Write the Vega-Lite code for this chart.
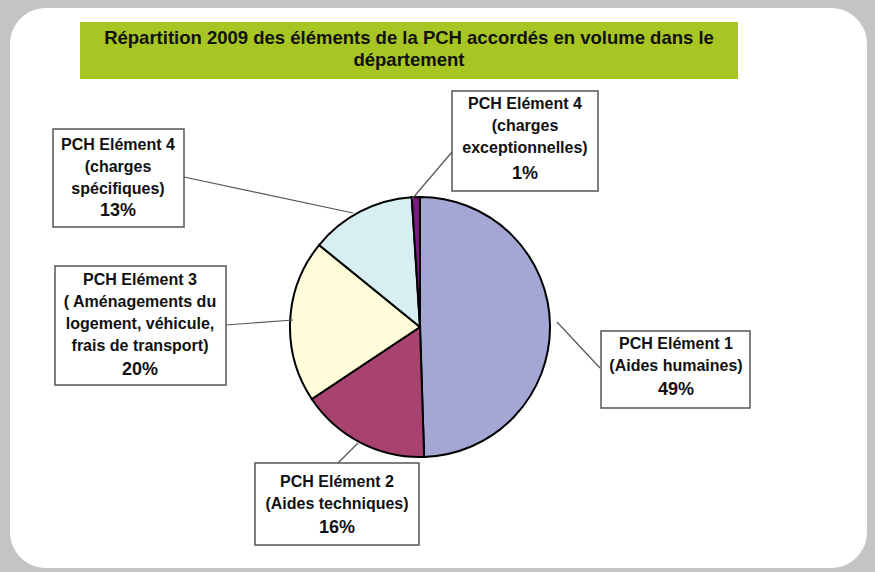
{
  "$schema": "https://vega.github.io/schema/vega-lite/v6.json",
  "width": 875,
  "height": 572,
  "autosize": {"type": "fit", "contains": "padding"},
  "padding": {"left": 10, "top": 8, "right": 8, "bottom": 4},
  "background": "#c4c4c4",
  "view": {"fill": "#ffffff", "stroke": "#ffffff", "strokeWidth": 0, "cornerRadius": 36},
  "config": {
    "text": {"font": "Liberation Sans", "fontWeight": "bold", "color": "#111111"}
  },
  "data": {
    "values": [
      {"ordre": 1, "element": "PCH Elément 1", "lignes": ["PCH Elément 1", "(Aides humaines)"], "part": 49, "pct": "49%"},
      {"ordre": 2, "element": "PCH Elément 2", "lignes": ["PCH Elément 2", "(Aides techniques)"], "part": 16, "pct": "16%"},
      {"ordre": 3, "element": "PCH Elément 3", "lignes": ["PCH Elément 3", "( Aménagements du", "logement, véhicule,", "frais de transport)"], "part": 20, "pct": "20%"},
      {"ordre": 4, "element": "PCH Elément 4 (charges spécifiques)", "lignes": ["PCH Elément 4", "(charges", "spécifiques)"], "part": 13, "pct": "13%"},
      {"ordre": 5, "element": "PCH Elément 4 (charges exceptionnelles)", "lignes": ["PCH Elément 4", "(charges", "exceptionnelles)"], "part": 1, "pct": "1%"}
    ]
  },
  "layer": [
    {
      "data": {"values": [{}]},
      "layer": [
        {
          "mark": {"type": "rect", "fill": "#a7c523"},
          "encoding": {
            "x": {"datum": -340, "type": "quantitative", "scale": {"domain": [-410, 447], "nice": false, "zero": false}, "axis": null},
            "x2": {"datum": 318},
            "y": {"datum": 305, "type": "quantitative", "scale": {"domain": [-241, 319], "nice": false, "zero": false}, "axis": null},
            "y2": {"datum": 248}
          }
        },
        {
          "mark": {"type": "text", "fontSize": 18.5, "lineHeight": 22, "align": "center", "baseline": "middle",
                   "text": ["Répartition 2009 des éléments de la PCH accordés en volume dans le", "département"]},
          "encoding": {"x": {"datum": -11}, "y": {"datum": 289}}
        }
      ]
    },
    {
      "mark": {"type": "arc", "outerRadius": 130, "stroke": "#000000", "strokeWidth": 2,
               "x": {"expr": "scale('x', 0)"}, "y": {"expr": "scale('y', 0)"}},
      "encoding": {
        "theta": {"field": "part", "type": "quantitative", "stack": true},
        "order": {"field": "ordre", "type": "quantitative", "sort": "ascending"},
        "color": {
          "field": "element", "type": "nominal", "legend": null,
          "scale": {
            "domain": ["PCH Elément 1", "PCH Elément 2", "PCH Elément 3", "PCH Elément 4 (charges spécifiques)", "PCH Elément 4 (charges exceptionnelles)"],
            "range": ["#a4a7d3", "#a8426f", "#fffcda", "#d7eef3", "#7a1c7e"]
          }
        }
      }
    },
    {
      "transform": [{"filter": "datum.ordre == 1"}],
      "layer": [
        {"mark": {"type": "rule", "stroke": "#555555", "strokeWidth": 1.2}, "encoding": {"x": {"datum": 137}, "y": {"datum": 5}, "x2": {"datum": 180}, "y2": {"datum": -41}}},
        {"mark": {"type": "rect", "fill": "#ffffff", "stroke": "#555555", "strokeWidth": 1.5}, "encoding": {"x": {"datum": 181}, "x2": {"datum": 330}, "y": {"datum": -4}, "y2": {"datum": -81}}},
        {"mark": {"type": "text", "fontSize": 16, "lineHeight": 22, "align": "center", "baseline": "middle"}, "encoding": {"x": {"datum": 256}, "y": {"datum": -17}, "text": {"field": "lignes"}}},
        {"mark": {"type": "text", "fontSize": 18, "align": "center", "baseline": "middle"}, "encoding": {"x": {"datum": 256}, "y": {"datum": -63}, "text": {"field": "pct"}}}
      ]
    },
    {
      "transform": [{"filter": "datum.ordre == 2"}],
      "layer": [
        {"mark": {"type": "rule", "stroke": "#555555", "strokeWidth": 1.2}, "encoding": {"x": {"datum": -62}, "y": {"datum": -116}, "x2": {"datum": -82}, "y2": {"datum": -136}}},
        {"mark": {"type": "rect", "fill": "#ffffff", "stroke": "#555555", "strokeWidth": 1.5}, "encoding": {"x": {"datum": -165}, "x2": {"datum": -1}, "y": {"datum": -136}, "y2": {"datum": -218}}},
        {"mark": {"type": "text", "fontSize": 16, "lineHeight": 22, "align": "center", "baseline": "middle"}, "encoding": {"x": {"datum": -83}, "y": {"datum": -155}, "text": {"field": "lignes"}}},
        {"mark": {"type": "text", "fontSize": 18, "align": "center", "baseline": "middle"}, "encoding": {"x": {"datum": -83}, "y": {"datum": -201}, "text": {"field": "pct"}}}
      ]
    },
    {
      "transform": [{"filter": "datum.ordre == 3"}],
      "layer": [
        {"mark": {"type": "rule", "stroke": "#555555", "strokeWidth": 1.2}, "encoding": {"x": {"datum": -194}, "y": {"datum": 2}, "x2": {"datum": -127}, "y2": {"datum": 7}}},
        {"mark": {"type": "rect", "fill": "#ffffff", "stroke": "#555555", "strokeWidth": 1.5}, "encoding": {"x": {"datum": -365}, "x2": {"datum": -194}, "y": {"datum": 61}, "y2": {"datum": -58}}},
        {"mark": {"type": "text", "fontSize": 16, "lineHeight": 22, "align": "center", "baseline": "middle"}, "encoding": {"x": {"datum": -280}, "y": {"datum": 47}, "text": {"field": "lignes"}}},
        {"mark": {"type": "text", "fontSize": 18, "align": "center", "baseline": "middle"}, "encoding": {"x": {"datum": -280}, "y": {"datum": -43}, "text": {"field": "pct"}}}
      ]
    },
    {
      "transform": [{"filter": "datum.ordre == 4"}],
      "layer": [
        {"mark": {"type": "rule", "stroke": "#555555", "strokeWidth": 1.2}, "encoding": {"x": {"datum": -236}, "y": {"datum": 150}, "x2": {"datum": -67}, "y2": {"datum": 114}}},
        {"mark": {"type": "rect", "fill": "#ffffff", "stroke": "#555555", "strokeWidth": 1.5}, "encoding": {"x": {"datum": -367}, "x2": {"datum": -236}, "y": {"datum": 198}, "y2": {"datum": 100}}},
        {"mark": {"type": "text", "fontSize": 16, "lineHeight": 22, "align": "center", "baseline": "middle"}, "encoding": {"x": {"datum": -302}, "y": {"datum": 182}, "text": {"field": "lignes"}}},
        {"mark": {"type": "text", "fontSize": 18, "align": "center", "baseline": "middle"}, "encoding": {"x": {"datum": -302}, "y": {"datum": 116}, "text": {"field": "pct"}}}
      ]
    },
    {
      "transform": [{"filter": "datum.ordre == 5"}],
      "layer": [
        {"mark": {"type": "rule", "stroke": "#555555", "strokeWidth": 1.2}, "encoding": {"x": {"datum": 32}, "y": {"datum": 175}, "x2": {"datum": -8}, "y2": {"datum": 128}}},
        {"mark": {"type": "rect", "fill": "#ffffff", "stroke": "#555555", "strokeWidth": 1.5}, "encoding": {"x": {"datum": 32}, "x2": {"datum": 178}, "y": {"datum": 236}, "y2": {"datum": 136}}},
        {"mark": {"type": "text", "fontSize": 16, "lineHeight": 22, "align": "center", "baseline": "middle"}, "encoding": {"x": {"datum": 105}, "y": {"datum": 223}, "text": {"field": "lignes"}}},
        {"mark": {"type": "text", "fontSize": 18, "align": "center", "baseline": "middle"}, "encoding": {"x": {"datum": 105}, "y": {"datum": 153}, "text": {"field": "pct"}}}
      ]
    }
  ]
}
